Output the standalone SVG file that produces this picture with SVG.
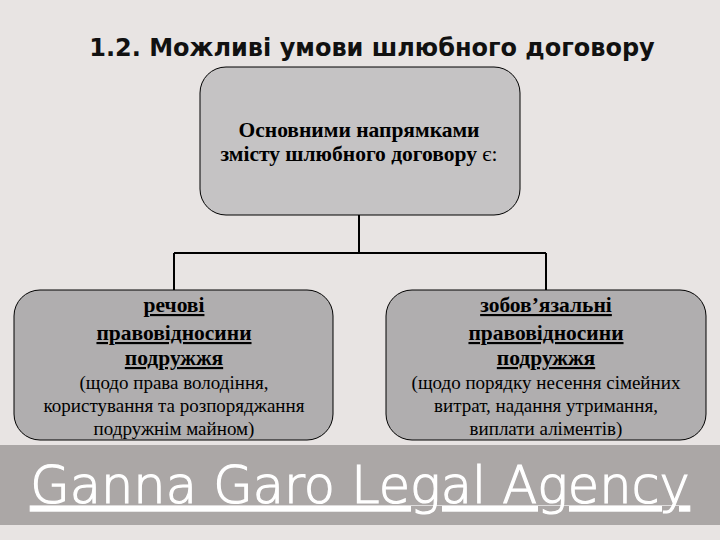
<svg xmlns="http://www.w3.org/2000/svg" width="720" height="540" viewBox="0 0 720 540">
<style>
.box{stroke:#000;stroke-width:1}
.b{font-family:"Liberation Serif",serif;font-weight:bold;font-size:21.5px;text-anchor:middle;fill:#000}
.u{text-decoration:underline}
.n{font-family:"Liberation Serif",serif;font-size:19px;text-anchor:middle;fill:#000}
.c{stroke:#000;stroke-width:2;fill:none}
</style>
<rect width="720" height="540" fill="#E8E4E3"/>
<rect x="0" y="445" width="720" height="80" fill="#ABA7A6"/>
<text x="372" y="56" font-family="DejaVu Sans, sans-serif" font-weight="bold" font-size="24" text-anchor="middle" fill="#111">1.2. Можливі умови шлюбного договору</text>
<g id="connectors">
<path class="c" d="M359 215V253M174 253H546M174 253V291M546 253V291"/>
</g>
<g id="top">
<rect class="box" x="200" y="67" width="320" height="148" rx="26" fill="#C5C3C4"/>
<text class="b" x="359" y="137">Основними напрямками</text>
<text class="b" x="359" y="161">змісту шлюбного договору <tspan font-weight="normal">є:</tspan></text>
</g>
<g id="left">
<rect class="box" x="14" y="290" width="319" height="150" rx="26" fill="#B0AEAF"/>
<text class="b u" x="174" y="312">речові </text>
<text class="b u" x="174" y="340">правовідносини</text>
<text class="b u" x="174" y="365">подружжя</text>
<text class="n" x="174" y="389">(щодо права володіння,</text>
<text class="n" x="174" y="412">користування та розпоряджання</text>
<text class="n" x="174" y="435">подружнім майном)</text>
</g>
<g id="right">
<rect class="box" x="386" y="290" width="320" height="150" rx="26" fill="#B0AEAF"/>
<text class="b u" x="546" y="312">зобов’язальні </text>
<text class="b u" x="546" y="340">правовідносини </text>
<text class="b u" x="546" y="365">подружжя </text>
<text class="n" x="546" y="389">(щодо порядку несення сімейних</text>
<text class="n" x="546" y="412">витрат, надання утримання,</text>
<text class="n" x="546" y="435">виплати аліментів)</text>
</g>
<text x="360" y="503" font-family="DejaVu Sans, sans-serif" font-weight="200" font-size="51" text-anchor="middle" fill="#fff" stroke="#fff" stroke-width="1.2" text-decoration="underline">Ganna Garo Legal Agency</text>
</svg>
